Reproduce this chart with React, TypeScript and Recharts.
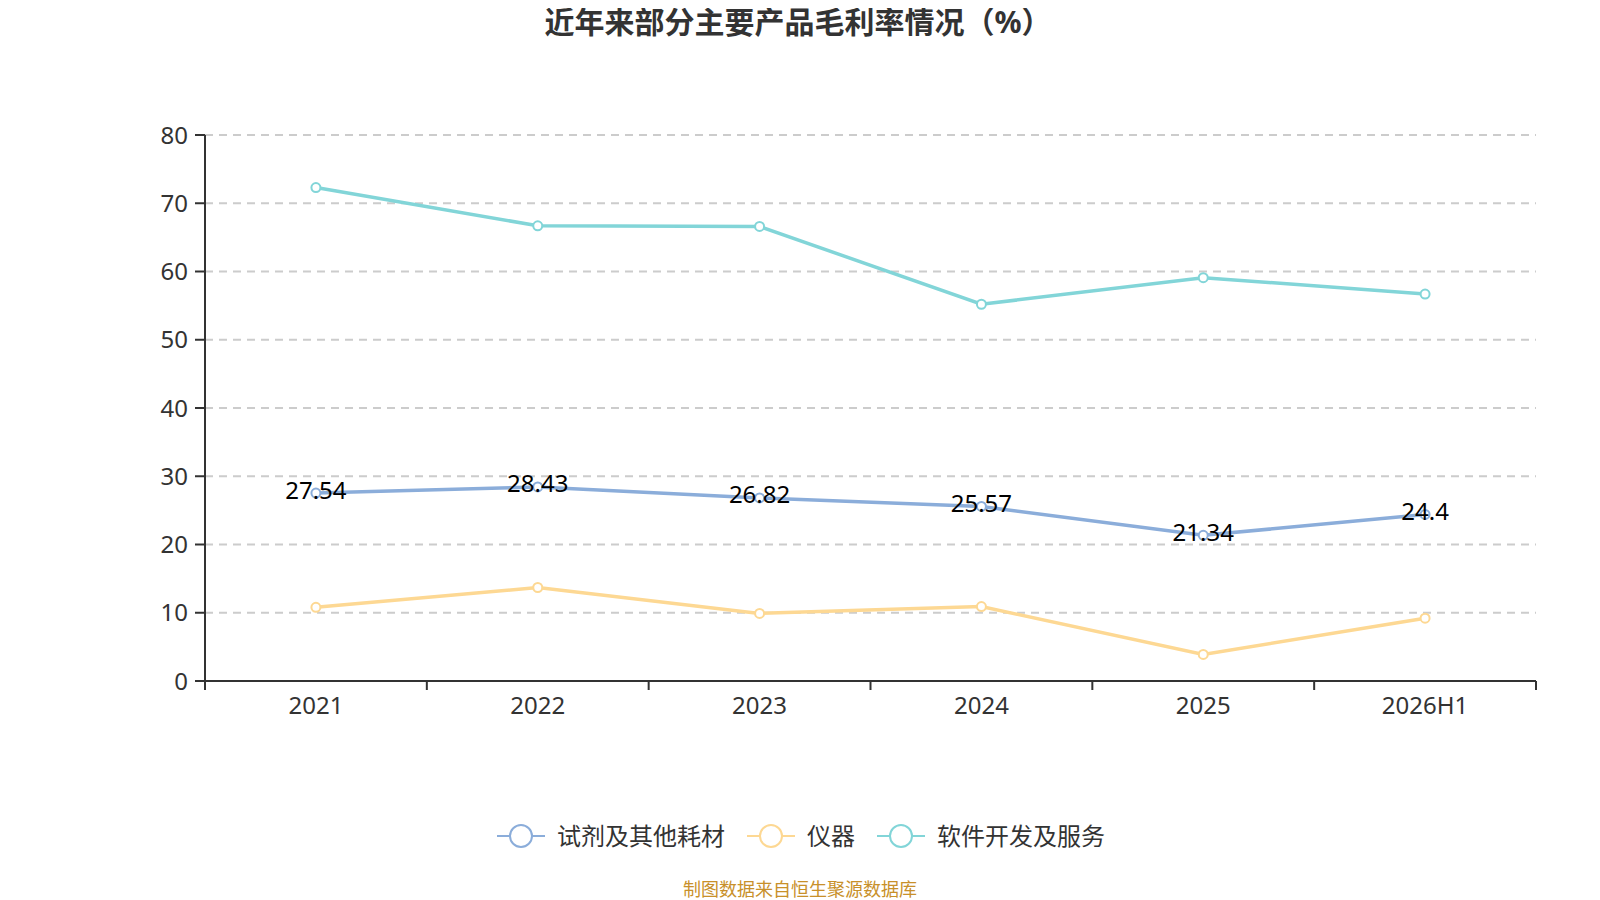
import React from "react";
import { LineChart, Line, XAxis, YAxis, CartesianGrid, LabelList } from "recharts";

const categories = ["2021", "2022", "2023", "2024", "2025", "2026H1"];
const reagents = [27.54, 28.43, 26.82, 25.57, 21.34, 24.4];
const instruments = [10.8, 13.7, 9.9, 10.9, 3.9, 9.2];
const software = [72.3, 66.7, 66.6, 55.2, 59.1, 56.7];
const yTicks = [0, 10, 20, 30, 40, 50, 60, 70, 80];

const seriesNames = ["试剂及其他耗材", "仪器", "软件开发及服务"];
const seriesColors = ["#8badda", "#fdd893", "#82d5d8"];

const data = categories.map((c, i) => ({
  name: c,
  a: reagents[i],
  b: instruments[i],
  c: software[i],
}));

const W = 1592;
const H = 892;
const Y_AXIS_W = 60;
const MARGIN = { top: 127, right: 64, bottom: 179, left: 137 };
const PLOT_LEFT = MARGIN.left + Y_AXIS_W;
const PLOT_RIGHT = W - MARGIN.right;
const PLOT_BOTTOM = H - MARGIN.bottom - 40;
const BAND = (PLOT_RIGHT - PLOT_LEFT) / categories.length;
const FONT = "'Noto Sans', 'Noto Sans CJK SC', sans-serif";

const XTick = (props: any) => {
  const { x, payload, index } = props;
  const lines = [x - BAND / 2];
  if (index === categories.length - 1) lines.push(x + BAND / 2);
  return (
    <g>
      {lines.map((lx, i) => (
        <line key={i} x1={lx} x2={lx} y1={PLOT_BOTTOM} y2={PLOT_BOTTOM + 9} stroke="#333" strokeWidth={2} />
      ))}
      <text x={x} y={PLOT_BOTTOM + 23} textAnchor="middle" dominantBaseline="central" fill="#333" fontSize={24} fontFamily={FONT}>
        {payload.value}
      </text>
    </g>
  );
};

const renderLabel = (props: any) => {
  const { x, y, value } = props;
  return (
    <text x={x} y={y - 4} textAnchor="middle" dominantBaseline="central" fill="#000" fontSize={24} fontFamily={FONT}>
      {value}
    </text>
  );
};

const LegendIcon = ({ color }: { color: string }) => (
  <svg width={48} height={26} style={{ display: "block" }}>
    <line x1={0} x2={48} y1={13} y2={13} stroke={color} strokeWidth={2} />
    <circle cx={24} cy={13} r={11} fill="#fff" stroke={color} strokeWidth={2} />
  </svg>
);

export default function App() {
  return (
    <div style={{ position: "relative", width: W, height: H, fontFamily: FONT, background: "#fff" }}>
      <div
        style={{
          position: "absolute",
          top: -4,
          left: 0,
          width: 1580,
          textAlign: "center",
          fontSize: 30,
          fontWeight: 700,
          color: "#333",
          lineHeight: "36px",
        }}
      >
        近年来部分主要产品毛利率情况（%）
      </div>
      <LineChart width={W} height={H} data={data} margin={MARGIN}>
        <CartesianGrid horizontal vertical={false} stroke="#cccccc" strokeDasharray="8 6" strokeWidth={2} />
        <XAxis
          dataKey="name"
          scale="band"
          tickLine={false}
          axisLine={{ stroke: "#333", strokeWidth: 2 }}
          tick={<XTick />}
          interval={0}
          height={40}
        />
        <YAxis
          width={Y_AXIS_W}
          domain={[0, 80]}
          ticks={yTicks}
          axisLine={{ stroke: "#333", strokeWidth: 2 }}
          tickLine={{ stroke: "#333", strokeWidth: 2 }}
          tickSize={10}
          tickMargin={7}
          tick={{ fill: "#333", fontSize: 24, fontFamily: FONT }}
        />
        <Line
          type="linear"
          dataKey="c"
          stroke={seriesColors[2]}
          strokeWidth={3.5}
          dot={{ r: 4.5, fill: "#fff", stroke: seriesColors[2], strokeWidth: 2 }}
          isAnimationActive={false}
        />
        <Line
          type="linear"
          dataKey="b"
          stroke={seriesColors[1]}
          strokeWidth={3.5}
          dot={{ r: 4.5, fill: "#fff", stroke: seriesColors[1], strokeWidth: 2 }}
          isAnimationActive={false}
        />
        <Line
          type="linear"
          dataKey="a"
          stroke={seriesColors[0]}
          strokeWidth={3.5}
          dot={{ r: 4.5, fill: "#fff", stroke: seriesColors[0], strokeWidth: 2 }}
          isAnimationActive={false}
        >
          <LabelList dataKey="a" content={renderLabel} />
        </Line>
      </LineChart>
      <div
        style={{
          position: "absolute",
          top: 815,
          left: 0,
          width: 1586,
          display: "flex",
          justifyContent: "center",
          alignItems: "center",
          gap: 22,
        }}
      >
        {seriesNames.map((n, i) => (
          <div key={n} style={{ display: "flex", alignItems: "center", gap: 12 }}>
            <LegendIcon color={seriesColors[i]} />
            <span style={{ fontSize: 24, color: "#333", lineHeight: "26px" }}>{n}</span>
          </div>
        ))}
      </div>
      <div
        style={{
          position: "absolute",
          top: 870,
          left: 0,
          width: 1584,
          textAlign: "center",
          fontSize: 18,
          color: "#c8902a",
          lineHeight: "22px",
        }}
      >
        制图数据来自恒生聚源数据库
      </div>
    </div>
  );
}
